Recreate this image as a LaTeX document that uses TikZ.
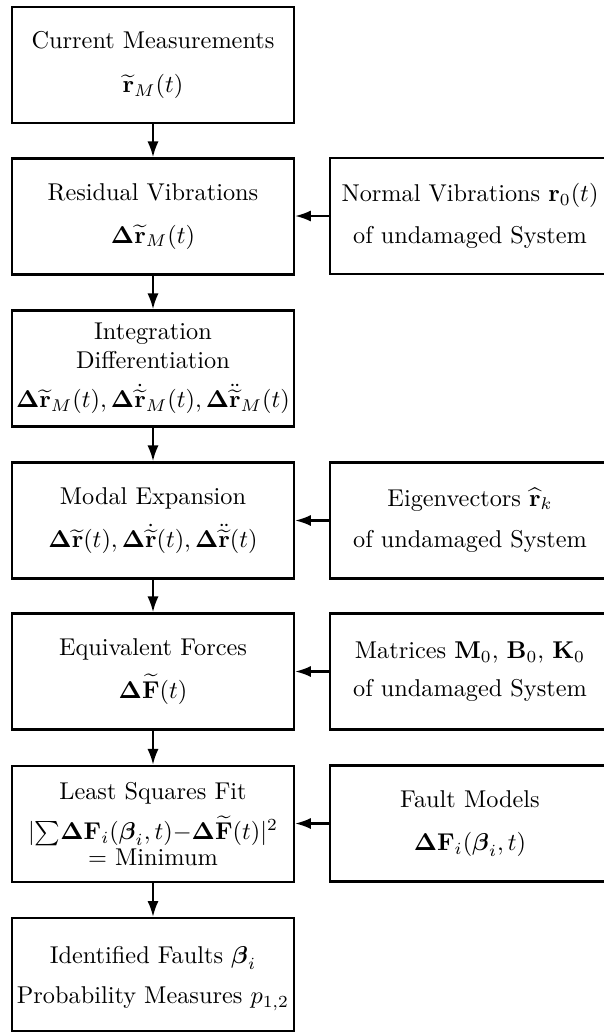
\documentclass[tikz,border=0pt]{standalone}
\usepackage{amsmath,amssymb}
\usetikzlibrary{arrows.meta}
\begin{document}
\begin{tikzpicture}[x=0.4115pt,y=-0.4115pt,
  box/.style={draw,line width=1pt,align=center,inner sep=0pt,
    minimum width=116pt,minimum height=47.8pt,font=\normalsize},
  rbox/.style={box,minimum width=115.2pt},
  arr/.style={line width=0.85pt,-{Latex[length=6.5pt,width=4.6pt]}}]
\path[fill=white,use as bounding box] (0,0) rectangle (603,1032);
% left column
\node[box] (b1) at (153,65) {Current Measurements\\[6pt] $\widetilde{\mathbf r}_M(t)$};
\node[box] (b2) at (153,216.5) {Residual Vibrations\\[5.5pt] $\mathbf{\Delta}\widetilde{\mathbf r}_M(t)$};
\node[box] (b3) at (153,368.5) {Integration\\ Differentiation\\[4pt]
  $\mathbf{\Delta}\widetilde{\mathbf r}_M(t),\mathbf{\Delta}\dot{\widetilde{\mathbf r}}_M(t),\mathbf{\Delta}\ddot{\widetilde{\mathbf r}}_M(t)$};
\node[box] (b4) at (153,520.5) {Modal Expansion\\[6pt]
  $\mathbf{\Delta}\widetilde{\mathbf r}(t),\mathbf{\Delta}\dot{\widetilde{\mathbf r}}(t),\mathbf{\Delta}\ddot{\widetilde{\mathbf r}}(t)$};
\node[box] (b5) at (153,671.5) {Equivalent Forces\\[5.5pt] $\mathbf{\Delta}\widetilde{\mathbf F}(t)$};
\node[box] (b6) at (153,824) {Least Squares Fit\\[4.5pt]
  $|{\sum}\mathbf{\Delta F}_i(\boldsymbol\beta_i,t)\mathord{-}\mathbf{\Delta}\widetilde{\mathbf F}(t)|^2$\\[-1.2pt] $=$ Minimum};
\node[box,minimum height=46.5pt] (b7) at (153,974.5) {\rule{0pt}{10.2pt}Identified Faults $\boldsymbol\beta_i$\\[4.5pt] Probability Measures $p_{1,2}$};
% right column
\node[rbox] (r1) at (470,216) {Normal Vibrations $\mathbf r_0(t)$\\[5pt] of undamaged System};
\node[rbox] (r2) at (470,520.5) {Eigenvectors $\widehat{\mathbf r}_k$\\[5pt] of undamaged System};
\node[rbox] (r3) at (470,671.5) {Matrices $\mathbf M_0$, $\mathbf B_0$, $\mathbf K_0$\\[3.5pt] of undamaged System};
\node[rbox] (r4) at (470,823.5) {Fault Models\\[6pt] $\mathbf{\Delta F}_i(\boldsymbol\beta_i,t)$};
% connectors
\draw[arr] (b1) -- (b2);
\draw[arr] (b2) -- (b3);
\draw[arr] (b3) -- (b4);
\draw[arr] (b4) -- (b5);
\draw[arr] (b5) -- (b6);
\draw[arr] (b6) -- (b7);
\draw[arr] (r1.west) -- (r1.west -| b2.east);
\draw[arr] (r2.west) -- (r2.west -| b4.east);
\draw[arr] (r3.west) -- (r3.west -| b5.east);
\draw[arr] (r4.west) -- (r4.west -| b6.east);
\end{tikzpicture}
\end{document}
